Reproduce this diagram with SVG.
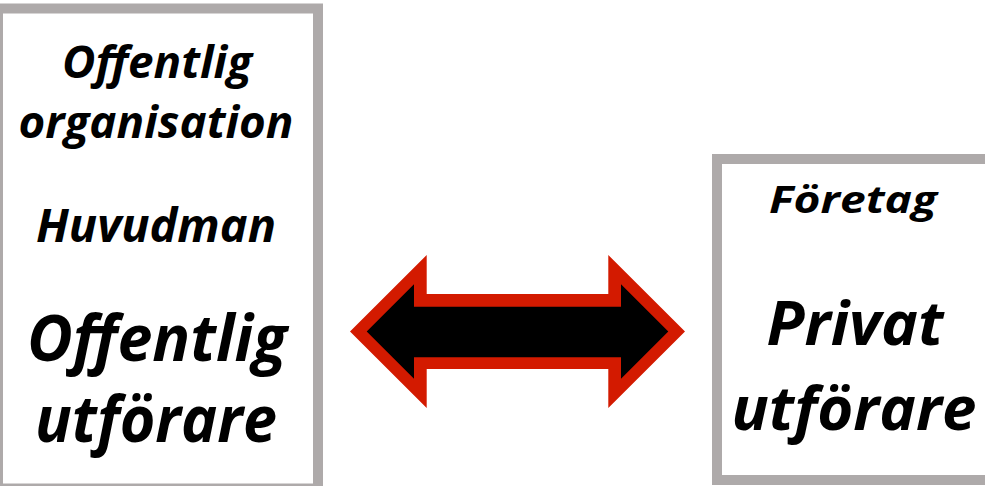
<svg xmlns="http://www.w3.org/2000/svg" width="985" height="486" viewBox="0 0 985 486">
<style>
.box{fill:#FFFFFF;stroke:#AEAAAA;stroke-width:10}
.t{font-family:"Open Sans","Noto Sans","Liberation Sans",sans-serif;font-weight:bold;font-style:italic;fill:#000000;text-anchor:middle}
</style>
<rect width="985" height="486" fill="#FFFFFF"/>
<g id="node-public">
<rect class="box" x="-2" y="8.5" width="320" height="480"/>
<text class="t" x="157" y="78" font-size="44" textLength="190" lengthAdjust="spacingAndGlyphs">Offentlig</text>
<text class="t" x="156" y="138" font-size="44" textLength="275" lengthAdjust="spacingAndGlyphs">organisation</text>
<text class="t" x="156" y="242" font-size="46" textLength="240" lengthAdjust="spacingAndGlyphs">Huvudman</text>
<text class="t" x="157" y="361" font-size="64" textLength="260" lengthAdjust="spacingAndGlyphs">Offentlig</text>
<text class="t" x="156" y="442" font-size="64" textLength="242" lengthAdjust="spacingAndGlyphs">utförare</text>
</g>
<g id="node-private">
<rect class="box" x="717" y="159" width="300" height="321"/>
<text class="t" x="853" y="213" font-size="38" textLength="168" lengthAdjust="spacingAndGlyphs">Företag</text>
<text class="t" x="855" y="345" font-size="60" textLength="177" lengthAdjust="spacingAndGlyphs">Privat</text>
<text class="t" x="854" y="430" font-size="60" textLength="245" lengthAdjust="spacingAndGlyphs">utförare</text>
</g>
<g id="connectors">
<polygon fill="#D31A00" points="350,331.5 426.7,255 426.7,294 608.3,294 608.3,255 685,331.5 608.3,408 608.3,369 426.7,369 426.7,408"/>
<polygon fill="#000000" points="366.7,331.5 414,284.2 414,306.7 621,306.7 621,284.2 668.3,331.5 621,378.8 621,357.3 414,357.3 414,378.8"/>
</g>
</svg>
